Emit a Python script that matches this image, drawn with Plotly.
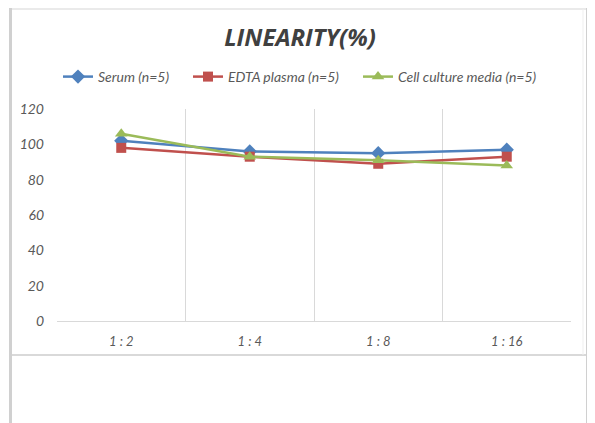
import plotly.graph_objects as go

categories = ["1:2", "1:4", "1:8", "1:16"]
tick_labels = ["1 : 2", "1 : 4", "1 : 8", "1 : 16"]
serum = [102, 96, 95, 97]
edta = [98, 93, 89, 93]
cell = [106, 93, 91, 88]
series_names = ["Serum (n=5)", "EDTA plasma (n=5)", "Cell culture media (n=5)"]
y_ticks = [0, 20, 40, 60, 80, 100, 120]

# page body has an 8px margin: work in screen coords, convert to figure coords
OFF = 8
W, H = 595 - OFF, 423 - OFF
L, T = 57 - OFF, 109 - OFF
pw, ph = 514, 212
R, B = W - L - pw, H - T - ph

def px(x):
    return (x - OFF - L) / pw

def py(y):
    return (H - B - (y - OFF)) / ph

fig = go.Figure()
styles = [("#4F81BD", "diamond", 11), ("#C0504D", "square", 10), ("#9BBB59", "triangle-up", 11)]
legend_ids = ["legend", "legend2", "legend3"]
legend_x = [65, 195, 365]  # screen x where each legend line starts
for name, vals, (c, sym, sz), lg in zip(series_names, [serum, edta, cell], styles, legend_ids):
    fig.add_trace(go.Scatter(
        x=categories, y=vals, name=name, mode="lines+markers",
        line=dict(color=c, width=2.5),
        marker=dict(symbol=sym, size=sz, color=c),
        legend=lg,
    ))

shapes = [
    dict(type="rect", xref="paper", yref="paper", x0=px(9), x1=px(12), y0=py(8), y1=py(423),
         fillcolor="#d0d0d0", line=dict(width=0), layer="below"),
    dict(type="rect", xref="paper", yref="paper", x0=px(586), x1=px(589), y0=py(8), y1=py(423),
         fillcolor="#d0d0d0", line=dict(width=0), layer="below"),
    dict(type="line", xref="paper", yref="paper", x0=px(12), x1=px(586), y0=py(9), y1=py(9),
         line=dict(color="#e3e3e3", width=1.5), layer="below"),
    dict(type="line", xref="paper", yref="paper", x0=px(12), x1=px(586), y0=py(355), y1=py(355),
         line=dict(color="#d9d9d9", width=2), layer="below"),
    dict(type="line", xref="paper", yref="paper", x0=px(583), x1=px(583), y0=py(9), y1=py(355),
         line=dict(color="#efefef", width=1), layer="below"),
]

LEG_PAD = 7  # approx distance from legend box left edge to the start of its line

def legend_cfg(xs):
    return dict(orientation="h", x=px(xs - LEG_PAD), xanchor="left", y=py(77), yanchor="middle",
                font=dict(size=14, color="#595959", style="italic"),
                itemwidth=30, bgcolor="rgba(0,0,0,0)")

fig.update_layout(
    width=W, height=H,
    margin=dict(l=L, r=R, t=T, b=B, pad=0),
    paper_bgcolor="white", plot_bgcolor="white",
    font=dict(family="Lato, 'Open Sans', sans-serif", color="#595959"),
    title=dict(text="<b><i>LINEARITY(%)</i></b>", x=(300 - OFF) / W, xanchor="center",
               y=1 - (38 - OFF) / H, yanchor="middle",
               font=dict(size=24, color="#404040", family="'Open Sans', sans-serif")),
    legend=legend_cfg(legend_x[0]),
    legend2=legend_cfg(legend_x[1]),
    legend3=legend_cfg(legend_x[2]),
    xaxis=dict(type="category", categoryorder="array", categoryarray=categories,
               tickvals=categories, ticktext=tick_labels,
               range=[-0.5, 3.5], tickson="boundaries", showgrid=True, gridcolor="#d9d9d9",
               gridwidth=1, showline=True, linecolor="#d9d9d9", linewidth=1, ticks="",
               tickfont=dict(size=13, color="#595959", style="italic"), ticklabelstandoff=8,
               zeroline=False),
    yaxis=dict(range=[0, 120], tickvals=y_ticks, showgrid=False, zeroline=False, showline=False,
               ticks="", tickfont=dict(size=14, color="#595959", style="italic"),
               ticklabelstandoff=12),
    shapes=shapes,
    showlegend=True,
)

fig.write_html("out.html")
